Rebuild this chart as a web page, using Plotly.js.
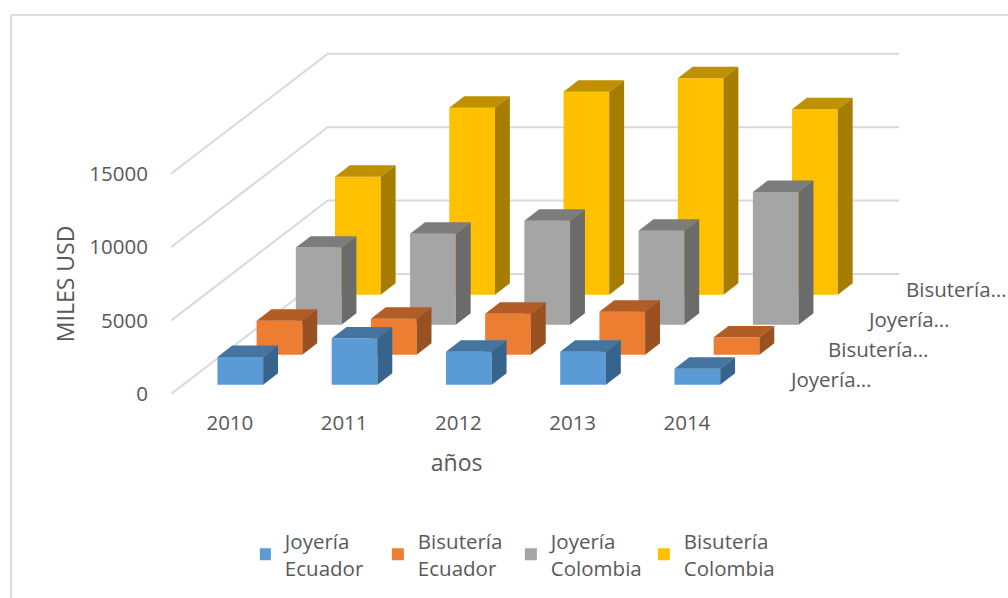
<!DOCTYPE html>
<html>
<head>
<meta charset="utf-8">
<script src="https://cdn.plot.ly/plotly-3.0.1.min.js"></script>
<style>
html,body{margin:0;padding:0;background:#fff;overflow:hidden;width:1008px;height:598px}
#frame{position:absolute;left:10px;top:14px;right:-5px;bottom:-5px;border:2px solid #dcdcdc;box-sizing:border-box}
#chart{position:absolute;left:0;top:0;width:1008px;height:598px}
</style>
</head>
<body>
<div id="frame"></div>
<div id="chart"></div>
<script>
const years = ['2010','2011','2012','2013','2014'];
const yTicks = [0,5000,10000,15000];
const joyeriaEcuador = [1890,3160,2250,2250,1090];
const bisuteriaEcuador = [2320,2450,2790,2930,1180];
const joyeriaColombia = [5250,6200,7080,6400,9040];
const bisuteriaColombia = [8040,12740,13830,14750,12640];
const legendNames = ['Joyería<br>Ecuador','Bisutería<br>Ecuador','Joyería<br>Colombia','Bisutería<br>Colombia'];
const depthLabels = ['Joyería…','Bisutería…','Joyería…','Bisutería…'];
const frontColors = ['#5B9BD5','#ED7D31','#A5A5A5','#FFC000'];
const topColors = ['#44749F','#B15D25','#7C7C7C','#BF9000'];
const sideColors = ['#37648C','#9A5121','#6B6B6B','#A67D00'];
const allSeries = [joyeriaEcuador,bisuteriaEcuador,joyeriaColombia,bisuteriaColombia];

// oblique projection: one depth row moves right and up in axis units
const rowX = 0.343, rowY = 2044;
const gap = 0.31, barDepth = 0.38, barWidth = 0.40;
const px = (c,d)=>c+d*rowX, py = (v,d)=>v+d*rowY;
const txtColor = '#595959', fontFam = '"Open Sans", sans-serif';

// visible axes span the front edge of the floor; the hidden x2/y2 pair has the same scale and room for the depth
const W = 830, H = 384, frontW = 572, frontH = 220.2;

const traces = [{type:'scatter',mode:'none',x:[0.5],y:[0],xaxis:'x',yaxis:'y',showlegend:false,hoverinfo:'skip'}];
for (let s=3;s>=0;s--){
  const vals = allSeries[s], d0=s+gap, d1=s+gap+barDepth;
  const left = years.map((_,i)=>i+0.5-barWidth/2);
  traces.push({type:'bar',name:legendNames[s],legendrank:s+1,xaxis:'x2',yaxis:'y2',
    x:left.map(c=>px(c+barWidth/2,d0)),y:vals,base:vals.map(()=>py(0,d0)),width:barWidth,
    marker:{color:frontColors[s],line:{width:0}},hoverinfo:'skip'});
  const tx=[],ty=[],sx=[],sy=[];
  vals.forEach((v,i)=>{
    const a=left[i],b=a+barWidth;
    tx.push(px(a,d0),px(b,d0),px(b,d1),px(a,d1),px(a,d0),null);
    ty.push(py(v,d0),py(v,d0),py(v,d1),py(v,d1),py(v,d0),null);
    sx.push(px(b,d0),px(b,d1),px(b,d1),px(b,d0),px(b,d0),null);
    sy.push(py(0,d0),py(0,d1),py(v,d1),py(v,d0),py(0,d0),null);
  });
  traces.push({type:'scatter',mode:'none',xaxis:'x2',yaxis:'y2',x:tx,y:ty,fill:'toself',fillcolor:topColors[s],showlegend:false,hoverinfo:'skip'});
  traces.push({type:'scatter',mode:'none',xaxis:'x2',yaxis:'y2',x:sx,y:sy,fill:'toself',fillcolor:sideColors[s],showlegend:false,hoverinfo:'skip'});
}

const shapes = yTicks.map(v=>({type:'path',layer:'below',xref:'x2',yref:'y2',
  path:`M0,${v} L${px(0,4)},${py(v,4)} L${px(5,4)},${py(v,4)}`,line:{color:'#D9D9D9',width:2}}));

const annotations = depthLabels.map((t,d)=>({xref:'x2',yref:'y2',x:px(5.39,d),y:py(1000,d),text:t,showarrow:false,
  xanchor:'left',yanchor:'middle',font:{family:fontFam,size:20.5,color:txtColor}}));

const layout = {
  width:1008,height:598,margin:{l:170.5,r:7.5,t:10,b:204},
  paper_bgcolor:'rgba(0,0,0,0)',plot_bgcolor:'rgba(0,0,0,0)',barmode:'overlay',
  font:{family:fontFam,size:20,color:txtColor},
  xaxis:{domain:[0,frontW/W],anchor:'y',range:[0,5],tickmode:'array',tickvals:years.map((_,i)=>i+0.515),ticktext:years,ticks:'outside',ticklen:10,tickcolor:'rgba(0,0,0,0)',
    showgrid:false,zeroline:false,showline:false,title:{text:'años',standoff:20,font:{size:23,color:txtColor}},tickfont:{size:20.5,color:txtColor}},
  yaxis:{domain:[0,frontH/H],anchor:'x',range:[0,15000],tickmode:'array',tickvals:yTicks,ticktext:yTicks.map(String),ticks:'outside',ticklen:18,tickcolor:'rgba(0,0,0,0)',
    showgrid:false,zeroline:false,showline:false,title:{text:'MILES USD',standoff:8,font:{size:23,color:txtColor}},tickfont:{size:20.5,color:txtColor}},
  xaxis2:{domain:[0,1],anchor:'y2',range:[0,5*W/frontW],visible:false},
  yaxis2:{domain:[0,1],anchor:'x2',range:[0,15000*H/frontH],visible:false},
  legend:{orientation:'h',x:0.1072,xanchor:'left',y:-0.331,yanchor:'top',entrywidth:103,entrywidthmode:'pixels',font:{size:20.5,color:txtColor},indentation:-15,itemclick:false,bgcolor:'rgba(0,0,0,0)'},
  shapes,annotations
};
Plotly.newPlot('chart',traces,layout,{displayModeBar:false,staticPlot:true});
</script>
</body>
</html>
